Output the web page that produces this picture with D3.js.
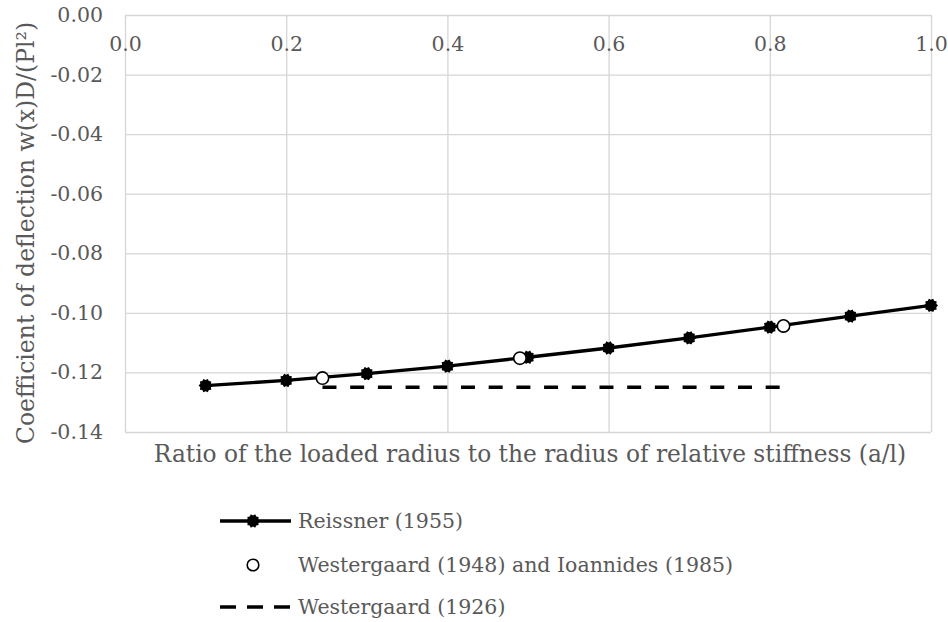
<!DOCTYPE html>
<html>
<head>
<meta charset="utf-8">
<script src="https://cdn.jsdelivr.net/npm/d3@7"></script>
<style>
  html, body { margin: 0; padding: 0; background: #fff; }
  svg { display: block; }
  text { font-family: "DejaVu Serif", "Liberation Serif", serif; fill: #595959; }
</style>
</head>
<body>
<svg id="chart" width="948" height="622"></svg>
<script>
// Reissner (1955): deflection coefficient against a/l
const reissnerX = [0.1, 0.2, 0.3, 0.4, 0.5, 0.6, 0.7, 0.8, 0.9, 1.0];
const reissnerY = [-0.1244, -0.1227, -0.1204, -0.1179, -0.1149, -0.1118, -0.1084, -0.1048, -0.1011, -0.0975];

// Westergaard (1948) and Ioannides (1985)
const westIoX = [0.245, 0.490, 0.817];
const westIoY = [-0.1219, -0.1152, -0.1044];

// Westergaard (1926)
const west26X = [0.245, 0.817];
const west26Y = [-0.125, -0.125];

const xTicks = [0.0, 0.2, 0.4, 0.6, 0.8, 1.0];
const yTicks = [0.00, -0.02, -0.04, -0.06, -0.08, -0.10, -0.12, -0.14];

const seriesNames = ["Reissner (1955)", "Westergaard (1948) and Ioannides (1985)", "Westergaard (1926)"];
const xTitle = "Ratio of the loaded radius to the radius of relative stiffness (a/l)";
const yTitle = "Coefficient of deflection w(x)D/(Pl²)";

const svg = d3.select("#chart");
const plot = { left: 125, top: 15, right: 931, bottom: 432 };

const x = d3.scaleLinear().domain([0, 1]).range([plot.left, plot.right]);
const y = d3.scaleLinear().domain([0, -0.14]).range([plot.top, plot.bottom]);

const gridColor = "#d6d6d6";
const tickFont = 20.5;

// horizontal gridlines
svg.append("g")
  .attr("transform", `translate(${plot.left},0)`)
  .call(d3.axisLeft(y).tickValues(yTicks).tickSize(-(plot.right - plot.left)).tickFormat(""))
  .call(g => g.select(".domain").remove())
  .call(g => g.selectAll("line").attr("stroke", gridColor).attr("stroke-width", 1.3));

// vertical gridlines
svg.append("g")
  .attr("transform", `translate(0,${plot.top})`)
  .call(d3.axisTop(x).tickValues(xTicks).tickSize(-(plot.bottom - plot.top)).tickFormat(""))
  .call(g => g.select(".domain").remove())
  .call(g => g.selectAll("line").attr("stroke", gridColor).attr("stroke-width", 1.3));

// y tick labels
svg.append("g")
  .attr("transform", `translate(${plot.left},0)`)
  .call(d3.axisLeft(y).tickValues(yTicks).tickSize(0).tickPadding(22).tickFormat(d => d3.format(".2f")(d).replace("−", "-")))
  .call(g => g.select(".domain").remove())
  .call(g => g.selectAll("text").attr("font-size", tickFont).attr("fill", "#595959")
    .attr("font-family", "DejaVu Serif, serif"));

// x tick labels sit just under the zero line
svg.append("g")
  .attr("transform", `translate(0,${plot.top})`)
  .call(d3.axisBottom(x).tickValues(xTicks).tickSize(0).tickPadding(21).tickFormat(d3.format(".1f")))
  .call(g => g.select(".domain").remove())
  .call(g => g.selectAll("text").attr("font-size", tickFont).attr("fill", "#595959")
    .attr("font-family", "DejaVu Serif, serif"));

// axis titles
svg.append("text")
  .attr("x", (plot.left + plot.right) / 2 + 2)
  .attr("y", 462)
  .attr("text-anchor", "middle")
  .attr("font-size", 23.3)
  .text(xTitle);

svg.append("text")
  .attr("transform", `translate(34,${233}) rotate(-90)`)
  .attr("text-anchor", "middle")
  .attr("font-size", 23.5)
  .text(yTitle);

// spiky filled marker used for Reissner points
function burst(r1, r2, n) {
  const pts = [];
  for (let i = 0; i < n * 2; i++) {
    const a = Math.PI * i / n;
    const r = i % 2 === 0 ? r1 : r2;
    pts.push([r * Math.cos(a), r * Math.sin(a)]);
  }
  return "M" + pts.map(p => p.join(",")).join("L") + "Z";
}
const burstPath = burst(7.0, 5.6, 10);

const line = d3.line().x(d => x(d[0])).y(d => y(d[1]));

const reissner = reissnerX.map((v, i) => [v, reissnerY[i]]);
const westIo = westIoX.map((v, i) => [v, westIoY[i]]);
const west26 = west26X.map((v, i) => [v, west26Y[i]]);

// Westergaard (1926) dashed line
svg.append("path")
  .datum(west26)
  .attr("d", line)
  .attr("fill", "none")
  .attr("stroke", "#000")
  .attr("stroke-width", 3.5)
  .attr("stroke-dasharray", "14,13.7");

// Reissner line and markers
svg.append("path")
  .datum(reissner)
  .attr("d", line)
  .attr("fill", "none")
  .attr("stroke", "#000")
  .attr("stroke-width", 3.3);

svg.append("g").selectAll("path")
  .data(reissner)
  .join("path")
  .attr("transform", d => `translate(${x(d[0])},${y(d[1])})`)
  .attr("d", burstPath)
  .attr("fill", "#000");

// Westergaard (1948) / Ioannides (1985) open circles
svg.append("g").selectAll("circle")
  .data(westIo)
  .join("circle")
  .attr("cx", d => x(d[0]))
  .attr("cy", d => y(d[1]))
  .attr("r", 6.2)
  .attr("fill", "#fff")
  .attr("stroke", "#000")
  .attr("stroke-width", 1.6);

// legend
const legend = svg.append("g");
const lx0 = 220, lx1 = 291, lmid = 253, ltext = 298;
const rows = [521, 565, 607];

legend.append("line")
  .attr("x1", lx0).attr("x2", lx1).attr("y1", rows[0]).attr("y2", rows[0])
  .attr("stroke", "#000").attr("stroke-width", 3.3);
legend.append("path")
  .attr("transform", `translate(${lmid},${rows[0]})`)
  .attr("d", burstPath).attr("fill", "#000");

legend.append("circle")
  .attr("cx", lmid).attr("cy", rows[1]).attr("r", 5.8)
  .attr("fill", "#fff").attr("stroke", "#000").attr("stroke-width", 1.6);

legend.append("line")
  .attr("x1", lx0).attr("x2", lx1).attr("y1", rows[2]).attr("y2", rows[2])
  .attr("stroke", "#000").attr("stroke-width", 3.5)
  .attr("stroke-dasharray", "16,11");

legend.selectAll("text.lg")
  .data(seriesNames)
  .join("text")
  .attr("class", "lg")
  .attr("x", ltext)
  .attr("y", (d, i) => rows[i] + 7)
  .attr("font-size", 20.5)
  .text(d => d);
</script>
</body>
</html>
